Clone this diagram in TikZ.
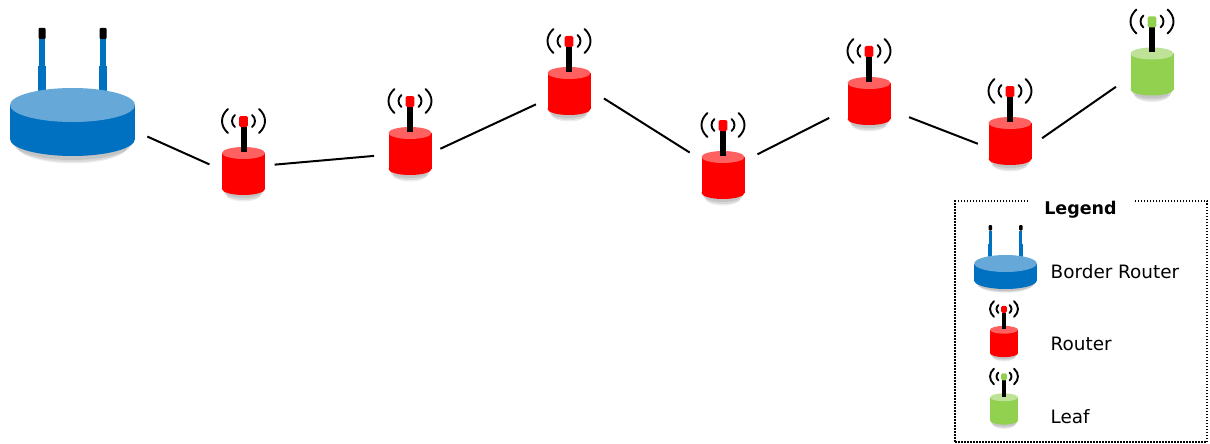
\documentclass[tikz,border=0pt]{standalone}
\usepackage{fontspec}
\setmainfont{DejaVu Sans}
\usepackage{xcolor}
\usepackage{tikz}
\usetikzlibrary{positioning}

\definecolor{routercol}{HTML}{FF0000}
\definecolor{routercoltop}{HTML}{FF6060}
\definecolor{leafcol}{HTML}{92D050}
\definecolor{leafcoltop}{HTML}{BEE398}
\definecolor{bordercol}{HTML}{0070C0}
\definecolor{bordercoltop}{HTML}{66A9D9}

\tikzset{
    pics/mesh/.style={code={
        % shadow under the body
        \fill[black, opacity=.09] (0,20) ellipse [x radius=20, y radius=7];
        \fill[black, opacity=.09] (0,22) ellipse [x radius=19, y radius=7];
        \fill[black, opacity=.07] (0,24) ellipse [x radius=17, y radius=6.5];
        \fill[#1] (-21.5,-18) rectangle (21.5,18);
        \fill[#1] (0,18) ellipse [x radius=21.5, y radius=6];
        \fill[#1top] (0,-18) ellipse [x radius=21.5, y radius=6];
        \fill[black] (-3,-44) rectangle (3,-19);
        \fill[#1, rounded corners=1.5] (-4.3,-55) rectangle (4.3,-44);
        \draw[wave] (-15.5,-62) .. controls (-23.5,-55) and (-23.5,-45) .. (-15.5,-38);
        \draw[wave] (15.5,-62) .. controls (23.5,-55) and (23.5,-45) .. (15.5,-38);
        \draw[wave] (-8.5,-56) .. controls (-12.5,-53) and (-12.5,-47) .. (-8.5,-44);
        \draw[wave] (8.5,-56) .. controls (12.5,-53) and (12.5,-47) .. (8.5,-44);
    }},
    pics/gateway/.style={code={
        \fill[black, opacity=.09] (0,20) ellipse [x radius=60, y radius=18];
        \fill[black, opacity=.09] (0,22) ellipse [x radius=58, y radius=18];
        \fill[black, opacity=.07] (0,24) ellipse [x radius=55, y radius=17.5];
        \fill[bordercol] (-34.5,-56) rectangle (-26.5,-30);
        \fill[bordercol] (26.5,-56) rectangle (34.5,-30);
        \fill[bordercol] (-33.2,-83) rectangle (-27.8,-56);
        \fill[bordercol] (27.8,-83) rectangle (33.2,-56);
        \fill[black, rounded corners=1] (-34,-94) rectangle (-27,-83);
        \fill[black, rounded corners=1] (27,-94) rectangle (34,-83);
        \fill[bordercol] (-62.5,-17) rectangle (62.5,17);
        \fill[bordercol] (0,17) ellipse [x radius=62.5, y radius=17];
        \fill[bordercoltop] (0,-17) ellipse [x radius=62.5, y radius=17];
    }}
}

\begin{document}
\begin{tikzpicture}[
    x=1pt, y=-1pt,
    wave/.style={black, line width=1.9pt, line cap=round},
    hub/.style={circle, inner sep=0pt},
    link/.style={black, line width=2pt},
    frame/.style={draw=black, line width=1.5pt, dash pattern=on 1.5pt off 1.5pt, minimum width=252pt, minimum height=241pt, inner sep=0pt},
    entry/.style={anchor=west, inner sep=0pt, font=\fontsize{18.4}{22}\selectfont}
]
\useasboundingbox (0,0) rectangle (1210,444);

\node[hub, minimum size=152pt] (br) at (72.5,122) {};
\node[hub, minimum size=69pt] (r1) at (243.5,171) {};
\node[hub, minimum size=66pt] (r2) at (410,151) {};
\node[hub, minimum size=71pt] (r3) at (569,91) {};
\node[hub, minimum size=80pt] (r4) at (723,175) {};
\node[hub, minimum size=86pt] (r5) at (869,101) {};
\node[hub, minimum size=64pt] (r6) at (1010,141) {};
\node[hub, minimum size=78pt] (lf) at (1152,71.5) {};

\pic at (br) {gateway};
\pic at (r1) {mesh=routercol};
\pic at (r2) {mesh=routercol};
\pic at (r3) {mesh=routercol};
\pic at (r4) {mesh=routercol};
\pic at (r5) {mesh=routercol};
\pic at (r6) {mesh=routercol};
\pic at (lf) {mesh=leafcol};

\draw[link] (br.-11) -- (r1.169);
\draw[link, shorten <=-3pt, shorten >=3pt] (r1.11) -- (r2.188);
\draw[link, shorten <=-3pt] (r2.6) -- (r3.202);
\draw[link] (r3.-12) -- (r4.146);
\draw[link] (r4.31) -- (r5.203);
\draw[link] (r5.-22) -- (r6.185);
\draw[link] (r6.5) -- (lf.203);

% legend
\node[frame] (legend) at (1081,321.5) {};
\node[fill=white, minimum width=105pt, minimum height=22pt, inner sep=0pt, font=\fontsize{17.5}{20}\selectfont\bfseries] (title) at (1080.5,210) {Legend};

\node[hub] (keyborder) at (1005.5,272) {};
\node[hub] (keyrouter) at (1004,341.5) {};
\node[hub] (keyleaf) at (1004,409) {};
\pic[scale=.5] at (keyborder) {gateway};
\pic[scale=.65] at (keyrouter) {mesh=routercol};
\pic[scale=.65] at (keyleaf) {mesh=leafcol};

\node[entry] (textborder) at (1050.5,272) {Border Router};
\node[entry] (textrouter) at (1050.5,344) {Router};
\node[entry] (textleaf) at (1050.5,417) {Leaf};

\end{tikzpicture}
\end{document}
